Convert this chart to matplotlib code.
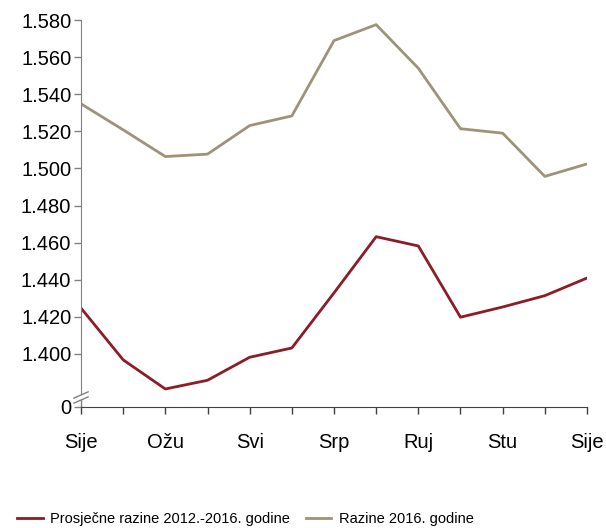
import matplotlib
matplotlib.use("Agg")
import matplotlib.pyplot as plt

plt.rcParams['font.family'] = ['Liberation Sans', 'DejaVu Sans']

months = ['Sije', 'Velj', 'Ožu', 'Tra', 'Svi', 'Lip', 'Srp', 'Kol', 'Ruj', 'Lis', 'Stu', 'Pro', 'Sije']
avg_2012_2016 = [1.4247, 1.3968, 1.3811, 1.3858, 1.3982, 1.4032, 1.4329, 1.4632, 1.4582, 1.4198, 1.4253, 1.4314, 1.4409]
levels_2016 = [1.5348, 1.5208, 1.5064, 1.5077, 1.5231, 1.5283, 1.5689, 1.5775, 1.5540, 1.5214, 1.5190, 1.4957, 1.5024]
labels = ['Prosječne razine 2012.-2016. godine', 'Razine 2016. godine']

red = '#8c1c26'
tan = '#9d9377'
ymin, ymax = 1.3714, 1.58

fig = plt.figure(figsize=(6.06, 5.28), dpi=100)
ax = fig.add_axes([0.1337, 0.2292, 0.8349, 0.7329])

x = list(range(len(months)))
ax.plot(x, avg_2012_2016, color=red, lw=2, label=labels[0])
ax.plot(x, levels_2016, color=tan, lw=2, label=labels[1])

ax.set_xlim(0, len(months) - 1)
ax.set_ylim(ymin, ymax)

yt = [1.40 + 0.02 * i for i in range(10)]
ax.set_yticks([ymin] + yt)
ax.set_yticklabels(['0'] + ['%.3f' % v for v in yt])
ax.set_xticks(x)
ax.set_xticklabels([m if i % 2 == 0 else '' for i, m in enumerate(months)])

ax.tick_params(axis='y', direction='out', length=5, width=1, color='#808080', labelsize=14.5, pad=2)
ax.tick_params(axis='x', direction='out', length=5, width=1, color='#404040', labelsize=14.5, pad=14)

for s in ['top', 'right']:
    ax.spines[s].set_visible(False)
ax.spines['left'].set_color('#808080')
ax.spines['bottom'].set_color('#404040')

# axis break marks
brk = (407 - 394) / 387 * (ymax - ymin) + ymin
ax.spines['left'].set_bounds(brk, ymax)
for yc in [0.031, 0.018]:
    ax.plot([-0.014, 0.014], [yc - 0.008, yc + 0.008], transform=ax.transAxes,
            color='#808080', lw=1, clip_on=False)
ax.plot([0, 0], [0, 0.018], transform=ax.transAxes, color='#808080', lw=1, clip_on=False)

fig.legend(loc='lower center', bbox_to_anchor=(0.405, -0.022), ncol=2, frameon=False,
           fontsize=10.5, handlelength=1.75, handletextpad=0.5, columnspacing=1.1)

fig.savefig('out.png', dpi=100)
